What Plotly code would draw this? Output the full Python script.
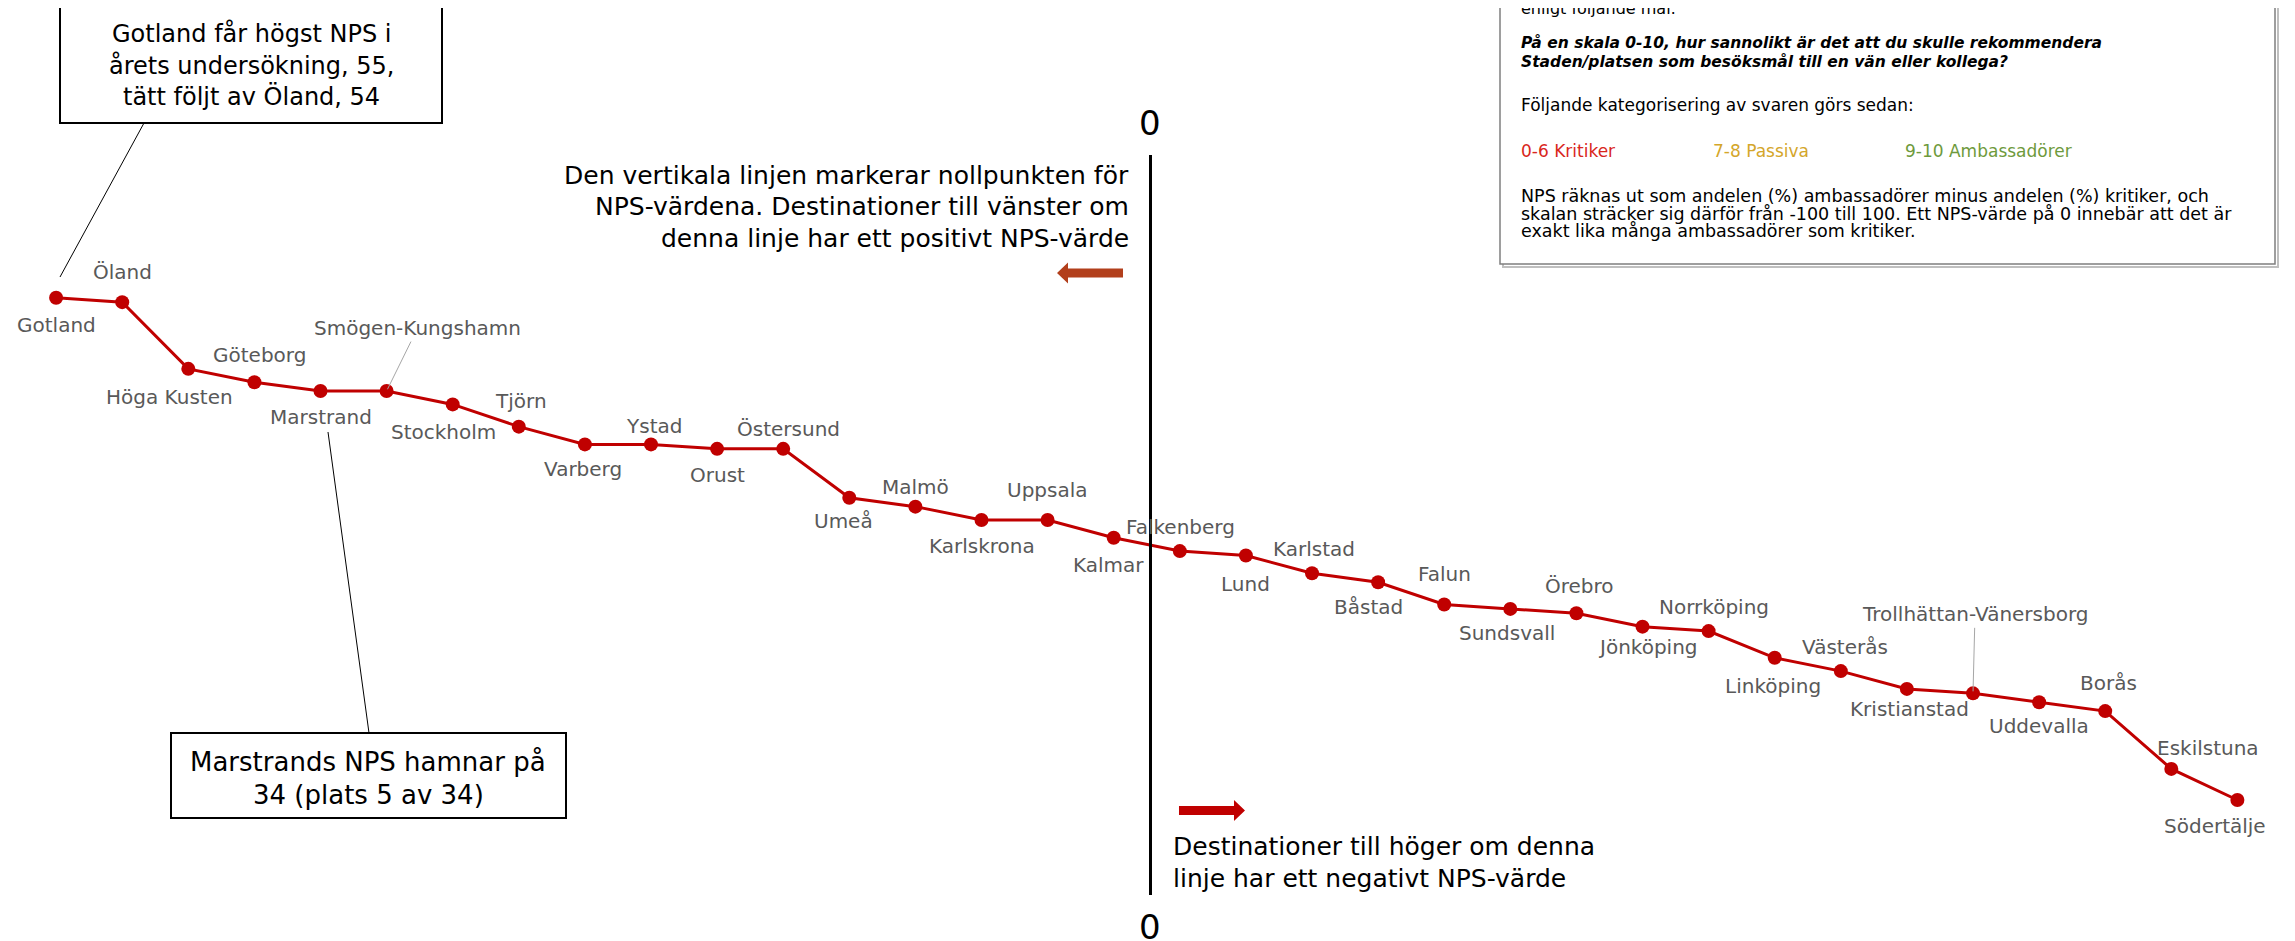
import plotly.graph_objects as go

# ---------------- data ----------------
destinations = [
    "Gotland", "Öland", "Höga Kusten", "Göteborg", "Marstrand", "Smögen-Kungshamn",
    "Stockholm", "Tjörn", "Varberg", "Ystad", "Orust", "Östersund", "Umeå", "Malmö",
    "Karlskrona", "Uppsala", "Kalmar", "Falkenberg", "Lund", "Karlstad", "Båstad",
    "Falun", "Sundsvall", "Örebro", "Jönköping", "Norrköping", "Linköping", "Västerås",
    "Kristianstad", "Trollhättan-Vänersborg", "Uddevalla", "Borås", "Eskilstuna", "Södertälje",
]
nps = [55, 54, 39, 36, 34, 34, 31, 26, 22, 22, 21, 21, 10, 8, 5, 5, 1, -2, -3, -7, -9,
       -14, -15, -16, -19, -20, -26, -29, -33, -34, -36, -38, -51, -58]
rank = list(range(len(destinations)))

# ---------------- styling ----------------
PAGE_W, PAGE_H = 2295, 941
OFF = 8                      # default body margin of the html page
W, H = PAGE_W - OFF, PAGE_H - OFF
FONT = "DejaVu Sans"
RED = "#C00000"
LABEL_GREY = "#595959"
LABEL_SIZE = 20

# page-pixel layout of the data area
X0_PX, X_STEP_PX = 56.1, 66.1          # page x of rank 0, px per rank
Y0_PX, Y_STEP_PX = 542.2, 4.445        # page y of NPS 0, px per NPS point

x_range = [(OFF - X0_PX) / X_STEP_PX, (OFF + W - X0_PX) / X_STEP_PX]
y_range = [(Y0_PX - (OFF + H)) / Y_STEP_PX, (Y0_PX - OFF) / Y_STEP_PX]

# label offsets in pixels (dx, dy; dy positive = downwards), None = leader-line label
label_offsets = [
    (0, 27), (0, -30), (-19, 28), (5, -27), (0, 26), None, (-9, 28), (2, -26), (-2, 25),
    (3, -18), (0, 26), (5, -20), (-6, 23), (0, -20), (0, 26), (0, -30), (-5, 27), (1, -24),
    (0, 28), (2, -24), (-10, 25), (0, -30), (-3, 24), (3, -27), (5, 20), (5, -24), (-2, 28),
    (4, -24), (3, 20), None, (0, 24), (3, -28), (37, -21), (-22, 26),
]
leader_offsets = {"Smögen-Kungshamn": (31, -63), "Trollhättan-Vänersborg": (2, -79)}


def px(x):
    return (x - OFF) / W


def py(y):
    return 1 - (y - OFF) / H


fig = go.Figure()
fig.add_trace(go.Scatter(
    x=rank, y=nps, mode="lines+markers",
    line=dict(color=RED, width=3),
    marker=dict(color=RED, size=14),
    hoverinfo="text", text=[f"{d}: {v}" for d, v in zip(destinations, nps)],
    showlegend=False,
))

annotations = []
for i, (name, val, off) in enumerate(zip(destinations, nps, label_offsets)):
    if off is None:
        ax, ay = leader_offsets[name]
        annotations.append(dict(
            x=i, y=val, xref="x", yref="y", text=name, showarrow=True,
            ax=ax, ay=ay, arrowhead=0, arrowwidth=1, arrowcolor="#A6A6A6", standoff=2,
            font=dict(family=FONT, size=LABEL_SIZE, color=LABEL_GREY),
        ))
    else:
        dx, dy = off
        annotations.append(dict(
            x=i, y=val, xref="x", yref="y", text=name, showarrow=False,
            xshift=dx, yshift=-dy, xanchor="center", yanchor="middle",
            font=dict(family=FONT, size=LABEL_SIZE, color=LABEL_GREY),
        ))


def text_px(x, y, t, size=24, color="#000000", xanchor="center", family=FONT):
    annotations.append(dict(
        x=px(x), y=py(y), xref="paper", yref="paper", text=t, showarrow=False,
        xanchor=xanchor, yanchor="middle", font=dict(family=family, size=size, color=color),
    ))


# Gotland call-out
for yy, t in zip([33, 65, 97], ["Gotland får högst NPS i", "årets undersökning, 55,", "tätt följt av Öland, 54"]):
    text_px(251, yy, t, size=24)
# Marstrand call-out
for yy, t in zip([762, 795], ["Marstrands NPS hamnar på", "34 (plats 5 av 34)"]):
    text_px(368, yy, t, size=26)

# zero-line explanation texts
for yy, t in zip([175, 207, 238], ["Den vertikala linjen markerar nollpunkten för",
                                   "NPS-värdena. Destinationer till vänster om",
                                   "denna linje har ett positivt NPS-värde"]):
    text_px(1131, yy, t, size=25, xanchor="right")
for yy, t in zip([846, 878], ["Destinationer till höger om denna", "linje har ett negativt NPS-värde"]):
    text_px(1171, yy, t, size=25, xanchor="left")

text_px(1150, 123, "0", size=34)
text_px(1150, 927, "0", size=34)

# info box texts
IX = 1519
text_px(IX, 9, "enligt följande mål:", size=16, xanchor="left")
text_px(IX, 43, "<b><i>På en skala 0-10, hur sannolikt är det att du skulle rekommendera</i></b>", size=15.5, xanchor="left")
text_px(IX, 62, "<b><i>Staden/platsen som besöksmål till en vän eller kollega?</i></b>", size=15.5, xanchor="left")
text_px(IX, 105, "Följande kategorisering av svaren görs sedan:", size=17, xanchor="left")
text_px(IX, 151, "0-6 Kritiker", size=17, color="#D9261C", xanchor="left")
text_px(1711, 151, "7-8 Passiva", size=17, color="#D4A62A", xanchor="left")
text_px(1903, 151, "9-10 Ambassadörer", size=17, color="#6E9A3C", xanchor="left")
text_px(IX, 196, "NPS räknas ut som andelen (%) ambassadörer minus andelen (%) kritiker, och", size=17.5, xanchor="left")
text_px(IX, 214, "skalan sträcker sig därför från -100 till 100. Ett NPS-värde på 0 innebär att det är", size=17.5, xanchor="left")
text_px(IX, 231, "exakt lika många ambassadörer som kritiker.", size=17.5, xanchor="left")

shapes = []


def rect(x0, y0, x1, y1, color="#000000", width=2, fill=None):
    shapes.append(dict(type="rect", xref="paper", yref="paper",
                       x0=px(x0), x1=px(x1), y0=py(y1), y1=py(y0),
                       line=dict(color=color, width=width),
                       fillcolor=fill if fill else "rgba(0,0,0,0)"))


def line(x0, y0, x1, y1, color="#000000", width=1):
    shapes.append(dict(type="line", xref="paper", yref="paper",
                       x0=px(x0), x1=px(x1), y0=py(y0), y1=py(y1),
                       line=dict(color=color, width=width)))


def arrow(x_tail, x_tip, yc, color, shaft=9, head_h=21, head_l=11):
    d = 1 if x_tip > x_tail else -1
    xb = x_tip - d * head_l
    pts = [(x_tail, yc - shaft / 2), (xb, yc - shaft / 2), (xb, yc - head_h / 2), (x_tip, yc),
           (xb, yc + head_h / 2), (xb, yc + shaft / 2), (x_tail, yc + shaft / 2)]
    path = "M " + " L ".join(f"{px(a):.5f},{py(b):.5f}" for a, b in pts) + " Z"
    shapes.append(dict(type="path", xref="paper", yref="paper", path=path,
                       fillcolor=color, line=dict(width=0)))


# info box with shadow
rect(1503, -10, 2278, 267, color="#BFBFBF", width=2)
rect(1500, -10, 2275, 264, color="#7F7F7F", width=1.5, fill="#FFFFFF")
# call-out boxes
rect(60, 6, 442, 123, width=2)
rect(171, 733, 566, 818, width=2)
line(144, 123, 60, 277)
line(369, 733, 328, 432)
# zero line
line(1150.5, 155, 1150.5, 895, width=3)
# arrows
arrow(1123, 1057, 273, "#B23F1C")
arrow(1179, 1245, 810.5, RED)

fig.update_layout(
    width=W, height=H, margin=dict(l=0, r=0, t=0, b=0),
    paper_bgcolor="white", plot_bgcolor="white",
    xaxis=dict(visible=False, range=x_range, fixedrange=True),
    yaxis=dict(visible=False, range=y_range, fixedrange=True),
    annotations=annotations, shapes=shapes, showlegend=False,
)
fig.write_html("out.html")
